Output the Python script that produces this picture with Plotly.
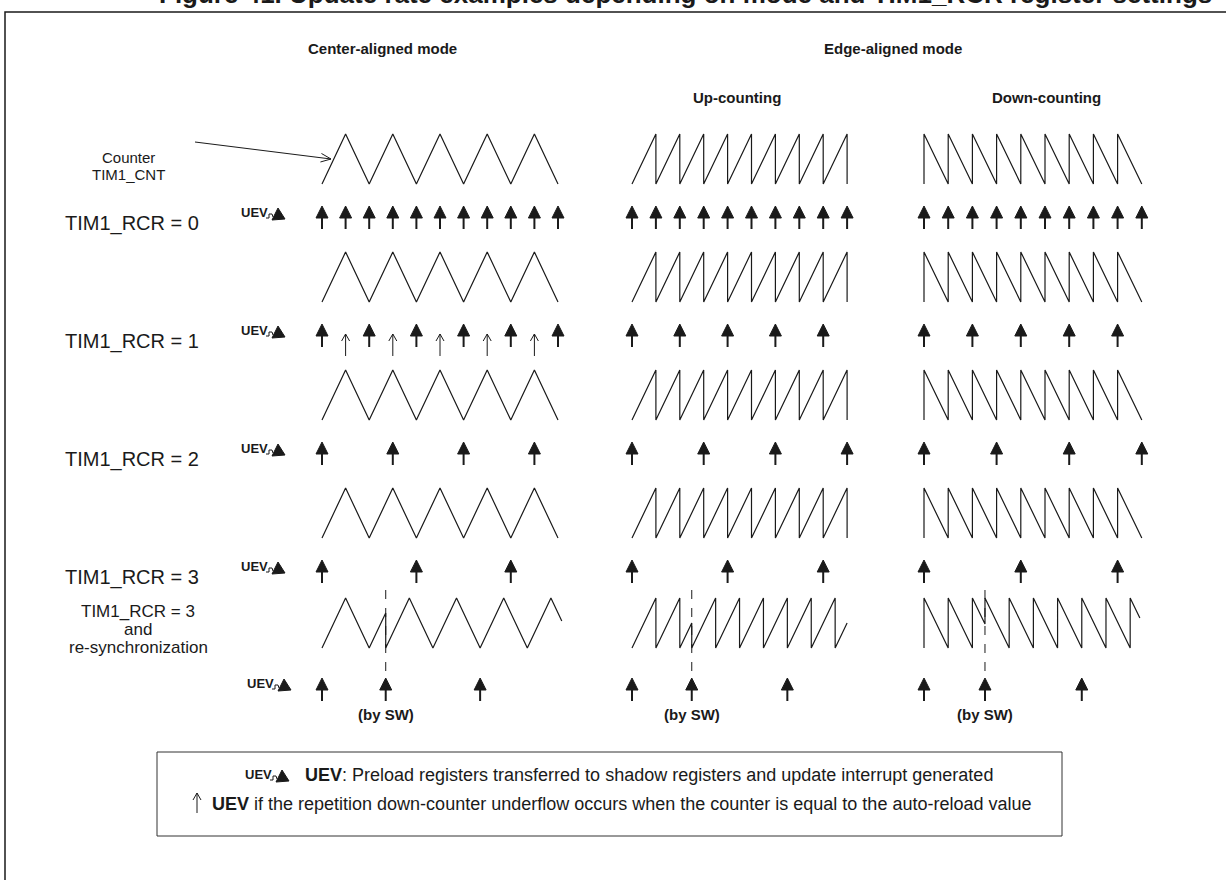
import math
import plotly.graph_objects as go

# ---------------- diagram data ----------------
rcr_values = [0, 1, 2, 3]
rcr_labels = ["TIM1_RCR = 0", "TIM1_RCR = 1", "TIM1_RCR = 2", "TIM1_RCR = 3"]
center_events = 10          # half periods shown in center-aligned mode
edge_teeth = 9              # counter periods shown in edge-aligned modes
center_alt_events = {1: [1, 3, 5, 7, 9]}   # thin arrows (UEV at auto-reload)
resync_rcr = 3
# software re-synchronisation: where it happens and where the trace stops (in counter steps)
resync_at = {"center": 2.7, "up": 2.5, "down": 2.52}
resync_tail = {"center": 7.46, "up": 6.5, "down": 6.4}
resync_label = ["TIM1_RCR = 3", "and", "re-synchronization"]
headers = ["Center-aligned mode", "Edge-aligned mode", "Up-counting", "Down-counting"]
legend_lines = [
    "<b>UEV</b>: Preload registers transferred to shadow registers and update interrupt generated",
    "<b>UEV</b> if the repetition down-counter underflow occurs when the counter is equal to the auto-reload value",
]
title = "Figure 41. Update rate examples depending on mode and TIM1_RCR register settings"

# ---------------- layout (pixels) ----------------
W, H = 1226, 880
FONT = "Liberation Sans, Arial, sans-serif"
INK = "#1a1a1a"
modes = {
    "center": dict(x0=322, step=23.6),
    "up": dict(x0=632, step=23.9),
    "down": dict(x0=924, step=24.2),
}
row_top0, row_gap, wave_h = 134, 118, 50
arrow_tip0 = 206
resync_top, resync_tip = 598, 678

fig = go.Figure()
annotations = []
shapes = []


def text(x, y, s, size=16, bold=False, anchor="center", color=INK):
    annotations.append(dict(
        x=x, y=y, xref="x", yref="y", text=f"<b>{s}</b>" if bold else s,
        showarrow=False, xanchor=anchor, yanchor="middle",
        font=dict(family=FONT, size=size, color=color)))


def polyline(xs, ys, width=1.2, dash=None, color=INK):
    fig.add_trace(go.Scatter(x=xs, y=ys, mode="lines", hoverinfo="skip", showlegend=False,
                             line=dict(color=color, width=width, dash=dash)))


def center_segment(t_len, top, bot):
    ts = list(range(int(t_len) + 1))
    if t_len > int(t_len):
        ts.append(t_len)
    pts = []
    for t in ts:
        ph = t % 2
        v = ph if ph <= 1 else 2 - ph
        pts.append((t, bot - v * (bot - top)))
    return pts


def up_segment(t_len, top, bot):
    pts = [(0, bot)]
    for k in range(1, int(t_len) + 1):
        pts += [(k, top), (k, bot)]
    if t_len > int(t_len):
        f = t_len - int(t_len)
        pts.append((t_len, bot - f * (bot - top)))
    return pts


def down_segment(t_len, top, bot, from_bottom=True):
    pts = [(0, bot), (0, top)] if from_bottom else [(0, top)]
    for k in range(1, int(t_len) + 1):
        pts.append((k, bot))
        if k < t_len:
            pts.append((k, top))
    if t_len > int(t_len):
        f = t_len - int(t_len)
        pts.append((t_len, top + f * (bot - top)))
    return pts


def draw_wave(mode, segs):
    m = modes[mode]
    xs, ys = [], []
    for start, pts in segs:
        for t, y in pts:
            xs.append(start + t * m["step"])
            ys.append(y)
    polyline(xs, ys)


def bold_arrows(xs, tip):
    hx, hy, sx, sy = [], [], [], []
    for x in xs:
        hx += [x, x - 6, x + 6, x, None]
        hy += [tip, tip + 12, tip + 12, tip, None]
        sx += [x, x, None]
        sy += [tip + 10, tip + 23, None]
    fig.add_trace(go.Scatter(x=hx, y=hy, mode="lines", fill="toself", fillcolor=INK,
                             line=dict(color=INK, width=1), hoverinfo="skip", showlegend=False))
    polyline(sx, sy, width=2)


def thin_arrows(xs, tip, length=22):
    px, py = [], []
    for x in xs:
        px += [x - 4, x, x + 4, None, x, x, None]
        py += [tip + 7, tip, tip + 7, None, tip, tip + length, None]
    polyline(px, py, width=1)


def uev_symbol(x, y):
    # "UEV" followed by the small pulse and filled triangle
    text(x, y, "UEV", size=13, bold=True)
    polyline([x + 12, x + 15, x + 15, x + 18, x + 19], [y + 6, y + 6, y + 2, y + 2, y + 5], width=1)
    fig.add_trace(go.Scatter(x=[x + 18, x + 24, x + 31, x + 18], y=[y + 8, y - 4, y + 7, y + 8],
                             mode="lines", fill="toself", fillcolor=INK, line=dict(color=INK, width=1),
                             hoverinfo="skip", showlegend=False))


# ---------- frame and title (title is cut by the top edge, as in the source) ----------
shapes.append(dict(type="rect", xref="x", yref="y", x0=5, y0=12, x1=W + 20, y1=H + 20,
                   line=dict(color=INK, width=1.5)))
annotations.append(dict(x=685, y=11, xref="x", yref="y", text=f"<b>{title}</b>", showarrow=False,
                        xanchor="center", yanchor="bottom", font=dict(family=FONT, size=26, color=INK)))

# ---------- headers ----------
text(382, 48, headers[0], size=15, bold=True)
text(893, 48, headers[1], size=15, bold=True)
text(737, 97, headers[2], size=15, bold=True)
text(1046, 97, headers[3], size=15, bold=True)

# ---------- counter label with pointer ----------
text(128, 157, "Counter", size=15)
text(128, 174, "TIM1_CNT", size=15)
polyline([195, 331], [142, 159], width=1)
ang = math.atan2(159 - 142, 331 - 195)
hx = [331 - 11 * math.cos(ang - 0.4), 331, 331 - 11 * math.cos(ang + 0.4)]
hy = [159 - 11 * math.sin(ang - 0.4), 159, 159 - 11 * math.sin(ang + 0.4)]
polyline(hx, hy, width=1)

# ---------- regular rows ----------
for i, rcr in enumerate(rcr_values):
    top = row_top0 + i * row_gap
    bot = top + wave_h
    tip = arrow_tip0 + i * row_gap
    draw_wave("center", [(modes["center"]["x0"], center_segment(center_events, top, bot))])
    draw_wave("up", [(modes["up"]["x0"], up_segment(edge_teeth, top, bot))])
    draw_wave("down", [(modes["down"]["x0"], down_segment(edge_teeth, top, bot))])

    c = modes["center"]
    bold_arrows([c["x0"] + k * c["step"] for k in range(0, center_events + 1, rcr + 1)], tip)
    if rcr in center_alt_events:
        thin_arrows([c["x0"] + k * c["step"] for k in center_alt_events[rcr]], tip + 10)
    for mode in ("up", "down"):
        m = modes[mode]
        bold_arrows([m["x0"] + k * m["step"] for k in range(0, edge_teeth + 1, rcr + 1)], tip)

    text(132, tip + 17, rcr_labels[i], size=20)
    uev_symbol(254, tip + 6)

# ---------- re-synchronisation row ----------
top, bot = resync_top, resync_top + wave_h
for mode in ("center", "up", "down"):
    m = modes[mode]
    reset_x = m["x0"] + resync_at[mode] * m["step"]
    if mode == "center":
        segs = [(m["x0"], center_segment(resync_at[mode], top, bot)),
                (reset_x, center_segment(resync_tail[mode], top, bot))]
    elif mode == "up":
        segs = [(m["x0"], up_segment(resync_at[mode], top, bot)),
                (reset_x, up_segment(resync_tail[mode], top, bot))]
    else:
        segs = [(m["x0"], down_segment(resync_at[mode], top, bot)),
                (reset_x, down_segment(resync_tail[mode], top, bot, from_bottom=False))]
    draw_wave(mode, segs)
    bold_arrows([m["x0"], reset_x, reset_x + (resync_rcr + 1) * m["step"]], resync_tip)
    polyline([reset_x, reset_x], [top - 8, resync_tip], width=1, dash="dash")
    text(reset_x, resync_tip + 36, "(by SW)", size=15, bold=True)

for j, s in enumerate(resync_label):
    text(138, 611 + j * 18, s, size=17)
uev_symbol(260, resync_tip + 5)

# ---------- legend box ----------
shapes.append(dict(type="rect", xref="x", yref="y", x0=157, y0=752, x1=1062, y1=836,
                   line=dict(color="#333", width=1)))
uev_symbol(258, 774)
text(303, 775, legend_lines[0], size=18, anchor="left")
thin_arrows([197], 793, length=20)
text(210, 804, legend_lines[1], size=18, anchor="left")

fig.update_layout(
    width=W, height=H, margin=dict(l=0, r=0, t=0, b=0),
    paper_bgcolor="white", plot_bgcolor="white",
    xaxis=dict(range=[0, W], visible=False, fixedrange=True),
    yaxis=dict(range=[H, 0], visible=False, fixedrange=True),
    annotations=annotations, shapes=shapes, showlegend=False,
)
fig.write_html("out.html", config={"displayModeBar": False},
               post_script="document.body.style.margin='0';")
